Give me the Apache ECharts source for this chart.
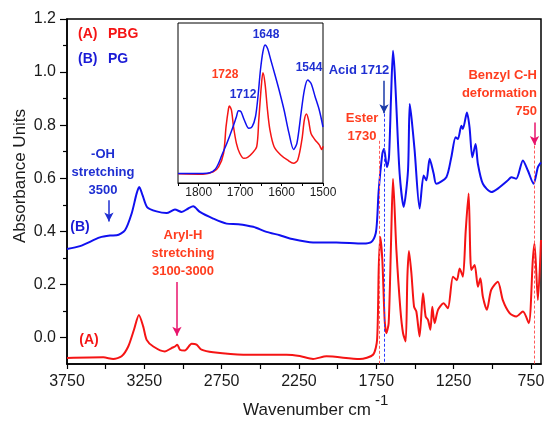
<!DOCTYPE html>
<html>
<head>
<meta charset="utf-8">
<script src="https://cdn.jsdelivr.net/npm/echarts@6/dist/echarts.min.js"></script>
<style>
  html, body { margin: 0; padding: 0; background: #fff; }
  #main { width: 546px; height: 421px; }
</style>
</head>
<body>
<div id="main"></div>
<script>
// wavenumber (cm-1), absorbance
var pbgMain = [
  [3750, -0.077], [3515, -0.075], [3451, -0.081], [3397, -0.071], [3354, -0.034],
  [3317, 0.029], [3285, 0.085], [3257, 0.041], [3235, -0.009], [3192, -0.034],
  [3117, -0.053], [3074, -0.040], [3052, -0.034], [3037, -0.027], [3020, -0.046],
  [2988, -0.049], [2944, -0.024], [2912, -0.027], [2880, -0.046], [2805, -0.056],
  [2611, -0.065], [2331, -0.065], [2245, -0.070], [2159, -0.081], [2072, -0.071],
  [1857, -0.081], [1771, -0.065], [1745, -0.009], [1734, 0.266], [1724, 0.379],
  [1711, 0.292], [1696, 0.066], [1685, 0.016], [1670, 0.054], [1655, 0.350],
  [1642, 0.598], [1620, 0.329], [1594, 0.104], [1577, 0.016], [1560, -0.015],
  [1549, 0.229], [1539, 0.326], [1523, 0.242], [1506, 0.116], [1491, 0.098],
  [1470, 0.004], [1448, 0.167], [1431, 0.079], [1416, 0.066], [1400, 0.029],
  [1388, 0.116], [1373, 0.054], [1351, 0.104], [1315, 0.129], [1287, 0.110],
  [1254, 0.229], [1229, 0.216], [1211, 0.260], [1190, 0.229], [1172, 0.400],
  [1153, 0.542], [1136, 0.254], [1114, 0.273], [1093, 0.191], [1077, 0.223],
  [1061, 0.154], [1035, 0.104], [1007, 0.179], [964, 0.210], [932, 0.141],
  [888, 0.092], [845, 0.079], [802, 0.098], [764, 0.054], [738, 0.292],
  [727, 0.354], [705, 0.141], [685, 0.367]
];

var pgMain = [
  [3750, 0.333], [3666, 0.344], [3537, 0.377], [3472, 0.384], [3429, 0.385],
  [3375, 0.404], [3332, 0.467], [3300, 0.542], [3283, 0.567], [3261, 0.535],
  [3231, 0.490], [3171, 0.475], [3106, 0.469], [3052, 0.482], [3009, 0.473],
  [2966, 0.486], [2934, 0.494], [2891, 0.473], [2805, 0.448], [2718, 0.429],
  [2643, 0.427], [2546, 0.417], [2460, 0.398], [2374, 0.385], [2309, 0.373],
  [2159, 0.358], [2008, 0.358], [1836, 0.354], [1782, 0.360], [1754, 0.392],
  [1744, 0.450], [1735, 0.550], [1711, 0.692], [1700, 0.711], [1681, 0.642],
  [1668, 0.679], [1655, 0.900], [1642, 1.080], [1631, 1.000], [1620, 0.867],
  [1599, 0.617], [1573, 0.492], [1545, 0.629], [1534, 0.880], [1521, 0.820],
  [1502, 0.704], [1470, 0.486], [1444, 0.610], [1426, 0.592], [1405, 0.673],
  [1379, 0.617], [1362, 0.579], [1297, 0.604], [1265, 0.679], [1237, 0.754],
  [1222, 0.748], [1200, 0.798], [1190, 0.786], [1164, 0.848], [1147, 0.792],
  [1129, 0.679], [1108, 0.729], [1093, 0.654], [1061, 0.579], [1006, 0.548],
  [964, 0.561], [899, 0.592], [877, 0.604], [845, 0.598], [802, 0.667],
  [770, 0.629], [733, 0.579], [705, 0.642], [685, 0.660]
];

// inset, normalised intensity
var pbgInset = [
  [1850, 0.058], [1790, 0.055], [1765, 0.070], [1752, 0.100], [1740, 0.186],
  [1734, 0.352], [1728, 0.467], [1726, 0.481], [1721, 0.456], [1716, 0.352],
  [1709, 0.248], [1701, 0.186], [1691, 0.154], [1682, 0.160], [1671, 0.186],
  [1660, 0.227], [1655, 0.394], [1649, 0.602], [1645, 0.689], [1640, 0.623],
  [1634, 0.456], [1628, 0.331], [1618, 0.227], [1602, 0.175], [1586, 0.144],
  [1571, 0.123], [1561, 0.144], [1551, 0.269], [1545, 0.394], [1540, 0.431],
  [1535, 0.394], [1529, 0.310], [1519, 0.269], [1509, 0.238], [1503, 0.210],
  [1500, 0.230]
];

var pgInset = [
  [1850, 0.060], [1790, 0.060], [1773, 0.064], [1760, 0.086], [1752, 0.123],
  [1744, 0.175], [1732, 0.248], [1720, 0.331], [1709, 0.414], [1704, 0.452],
  [1698, 0.446], [1690, 0.394], [1679, 0.342], [1671, 0.352], [1663, 0.414],
  [1657, 0.539], [1651, 0.706], [1645, 0.821], [1640, 0.863], [1634, 0.842],
  [1626, 0.769], [1617, 0.686], [1606, 0.581], [1594, 0.456], [1582, 0.310],
  [1571, 0.210], [1563, 0.248], [1553, 0.436], [1545, 0.581], [1537, 0.644],
  [1529, 0.623], [1519, 0.539], [1509, 0.456], [1500, 0.350]
];

var xTickLabels = [3750, 3250, 2750, 2250, 1750, 1250, 750];
var xTicks = [3750, 3500, 3250, 3000, 2750, 2500, 2250, 2000, 1750, 1500, 1250, 1000, 750];
var yTickLabels = [0, 0.2, 0.4, 0.6, 0.8, 1.0, 1.2];
var yMinorTicks = [0.1, 0.3, 0.5, 0.7, 0.9, 1.1];
var insetTickLabels = [1800, 1700, 1600, 1500];
var insetTicks = [1850, 1800, 1750, 1700, 1650, 1600, 1550, 1500];

var FONT = 'Liberation Sans, Arial, sans-serif';
var RED = '#f51414';
var BLUE = '#1010f0';
var ORANGE = '#ff3d1f';
var TXTBLUE = '#1f2fd2';
var PINK = '#e8146c';

function txt(x, y, s, color, size, align, bold) {
  return {
    type: 'text', x: x, y: y, z: 50,
    style: {
      text: s, fill: color, align: align || 'center', verticalAlign: 'middle',
      font: (bold === false ? '' : 'bold ') + size + 'px ' + FONT,
      lineHeight: 18
    }
  };
}

function plain(v) { return String(v); }

var option = {
  animation: false,
  backgroundColor: '#fff',
  grid: [
    { left: 67, right: 5, top: 19, bottom: 57, show: true, borderColor: '#000', borderWidth: 1.5, outerBoundsMode: 'none' },
    { left: 178, top: 23, width: 145, height: 160, show: true, borderColor: '#000', borderWidth: 1, backgroundColor: '#fff', outerBoundsMode: 'none' }
  ],
  xAxis: [
    {
      type: 'value', gridIndex: 0, min: 685, max: 3750, inverse: true,
      axisLine: { onZero: false, lineStyle: { color: '#000', width: 1.5 } },
      axisTick: { customValues: xTicks, length: 5, lineStyle: { color: '#000', width: 1.2 } },
      axisLabel: { customValues: xTickLabels, margin: 10, color: '#1a1a1a', fontSize: 16, fontFamily: FONT, formatter: plain },
      splitLine: { show: false }
    },
    {
      type: 'value', gridIndex: 1, min: 1500, max: 1850, inverse: true,
      axisLine: { onZero: false, lineStyle: { color: '#000', width: 1 } },
      axisTick: { customValues: insetTicks, length: 3, lineStyle: { color: '#000' } },
      axisLabel: { customValues: insetTickLabels, margin: 4, color: '#1a1a1a', fontSize: 12, fontFamily: FONT, formatter: plain },
      splitLine: { show: false }
    }
  ],
  yAxis: [
    {
      type: 'value', gridIndex: 0, min: -0.1, max: 1.2,
      axisLine: { show: true, onZero: false, lineStyle: { color: '#000', width: 1.5 } },
      axisTick: { show: true, customValues: yTickLabels, length: 7, lineStyle: { color: '#000', width: 1.2 } },
      axisLabel: {
        customValues: yTickLabels, margin: 11, color: '#1a1a1a', fontSize: 16, fontFamily: FONT,
        formatter: function (v) { return v.toFixed(1); }
      },
      splitLine: { show: false }
    },
    {
      type: 'value', gridIndex: 0, min: -0.1, max: 1.2, position: 'left',
      axisLine: { show: false, onZero: false },
      axisTick: { show: true, customValues: yMinorTicks, length: 4, lineStyle: { color: '#000', width: 1.2 } },
      axisLabel: { show: false },
      splitLine: { show: false }
    },
    {
      type: 'value', gridIndex: 1, min: 0, max: 1, show: false
    }
  ],
  series: [
    {
      name: 'PBG', type: 'line', xAxisIndex: 0, yAxisIndex: 0,
      data: pbgMain, showSymbol: false, smooth: 0.25,
      lineStyle: { color: RED, width: 2 },
      markLine: {
        silent: true, symbol: ['none', 'none'], label: { show: false },
        data: [
          [{ coord: [1700, 0.843] }, { coord: [1700, -0.1] }],
          [{ coord: [1728, 0.741] }, { coord: [1728, -0.1] }],
          [{ coord: [727, 0.723] }, { coord: [727, -0.1] }]
        ].map(function (d, i) {
          d[0].lineStyle = { type: [3, 2], width: 1, color: i === 0 ? '#2a3cff' : '#ff5a5a' };
          return d;
        })
      }
    },
    {
      name: 'PG', type: 'line', xAxisIndex: 0, yAxisIndex: 0,
      data: pgMain, showSymbol: false, smooth: 0.25,
      lineStyle: { color: BLUE, width: 2 },
      markLine: {
        silent: true, symbol: ['none', 'arrow'], symbolSize: [7, 9], label: { show: false },
        data: [
          [{ coord: [3479, 0.517], lineStyle: { color: TXTBLUE, width: 1.5, type: 'solid' } }, { coord: [3479, 0.437] }],
          [{ coord: [3039, 0.209], lineStyle: { color: PINK, width: 1.5, type: 'solid' } }, { coord: [3039, 0.006] }],
          [{ coord: [1700, 0.967], lineStyle: { color: '#1a3aa8', width: 1.5, type: 'solid' } }, { coord: [1700, 0.845] }],
          [{ coord: [727, 0.81], lineStyle: { color: PINK, width: 1.5, type: 'solid' } }, { coord: [727, 0.725] }]
        ]
      }
    },
    {
      name: 'PBG inset', type: 'line', xAxisIndex: 1, yAxisIndex: 2,
      data: pbgInset, showSymbol: false, smooth: 0.3,
      lineStyle: { color: RED, width: 1.5 }
    },
    {
      name: 'PG inset', type: 'line', xAxisIndex: 1, yAxisIndex: 2,
      data: pgInset, showSymbol: false, smooth: 0.3,
      lineStyle: { color: BLUE, width: 1.5 }
    }
  ],
  graphic: [
    // legend text
    txt(78, 34, '(A)', RED, 14, 'left'),
    txt(108, 34, 'PBG', RED, 14, 'left'),
    txt(78, 59, '(B)', '#1a1ad6', 14, 'left'),
    txt(108, 59, 'PG', '#1a1ad6', 14, 'left'),
    // curve labels
    txt(80, 227, '(B)', '#1a1ad6', 14),
    txt(89, 340, '(A)', RED, 14),
    // annotations
    txt(103, 172, '-OH\nstretching\n3500', TXTBLUE, 13),
    txt(183, 253, 'Aryl-H\nstretching\n3100-3000', ORANGE, 13),
    txt(359, 70, 'Acid 1712', TXTBLUE, 13),
    txt(362, 127, 'Ester\n1730', ORANGE, 13),
    txt(537, 93, 'Benzyl C-H\ndeformation\n750', ORANGE, 13, 'right'),
    // inset peak labels
    txt(225, 75, '1728', ORANGE, 12),
    txt(243, 95, '1712', TXTBLUE, 12),
    txt(266, 35, '1648', TXTBLUE, 12),
    txt(309, 68, '1544', TXTBLUE, 12),
    // axis titles
    {
      type: 'text', x: 20, y: 176, rotation: Math.PI / 2, z: 50,
      style: { text: 'Absorbance Units', fill: '#1a1a1a', align: 'center', verticalAlign: 'middle', font: '17px ' + FONT }
    },
    {
      type: 'text', x: 307, y: 410, z: 50,
      style: { text: 'Wavenumber cm', fill: '#1a1a1a', align: 'center', verticalAlign: 'middle', font: '17px ' + FONT }
    },
    {
      type: 'text', x: 375, y: 401, z: 50,
      style: { text: '-1', fill: '#1a1a1a', align: 'left', verticalAlign: 'middle', font: '15px ' + FONT }
    }
  ]
};

var chartDom = document.getElementById('main');
var myChart = echarts.init(chartDom, null, { renderer: 'canvas' });
myChart.setOption(option);
</script>
</body>
</html>
